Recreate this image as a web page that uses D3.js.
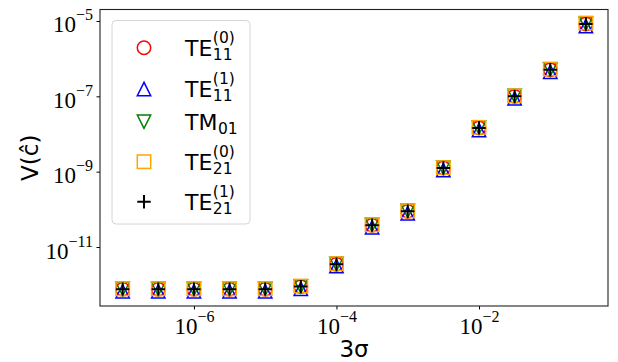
<!DOCTYPE html>
<html>
<head>
<meta charset="utf-8">
<script src="https://cdn.jsdelivr.net/npm/d3@7"></script>
<style>
  body { margin: 0; background: #fff; }
  svg { display: block; }
</style>
</head>
<body>
<div id="chart"></div>
<script>
// x values (3 sigma), half-decade steps
const sigma = [1e-7, 3.16e-7, 1e-6, 3.16e-6, 1e-5, 3.16e-5, 1e-4, 3.16e-4, 1e-3, 3.16e-3, 1e-2, 3.16e-2, 1e-1, 3.16e-1];

// V(c-hat) for each mode
const te11_0 = [7.6e-13, 7.6e-13, 7.6e-13, 7.6e-13, 7.6e-13, 8.9e-13, 3.5e-12, 3.8e-11, 8.9e-11, 1.25e-9, 1.45e-8, 1.0e-7, 5.1e-7, 8.3e-6];
const te11_1 = [6.7e-13, 6.7e-13, 6.7e-13, 6.7e-13, 6.7e-13, 7.8e-13, 3.1e-12, 3.35e-11, 7.8e-11, 1.1e-9, 1.28e-8, 8.8e-8, 4.5e-7, 7.3e-6];
const tm01 = [7.7e-13, 7.7e-13, 7.7e-13, 7.7e-13, 7.7e-13, 9.0e-13, 3.55e-12, 3.85e-11, 9.0e-11, 1.27e-9, 1.47e-8, 1.02e-7, 5.2e-7, 8.5e-6];
const te21_0 = [7.8e-13, 7.8e-13, 7.8e-13, 7.8e-13, 7.8e-13, 9.2e-13, 3.6e-12, 3.9e-11, 9.1e-11, 1.28e-9, 1.5e-8, 1.03e-7, 5.3e-7, 8.8e-6];
const te21_1 = [7.6e-13, 7.6e-13, 7.6e-13, 7.6e-13, 7.6e-13, 8.9e-13, 3.5e-12, 3.8e-11, 8.9e-11, 1.25e-9, 1.45e-8, 1.0e-7, 5.1e-7, 8.3e-6];

const seriesNames = ["TE", "TE", "TM", "TE", "TE"];
const seriesSubs = ["11", "11", "01", "21", "21"];
const seriesSups = ["(0)", "(1)", "", "(0)", "(1)"];
const seriesShapes = ["circle", "triangleUp", "triangleDown", "square", "plus"];
const seriesColors = ["red", "blue", "green", "orange", "black"];
const seriesValues = [te11_0, te11_1, tm01, te21_0, te21_1];

const xTickExps = [-6, -4, -2];
const yTickExps = [-11, -9, -7, -5];

const W = 618, H = 362;
const margin = { top: 9.5, left: 100, right: 10, bottom: 56 };
const width = W - margin.left - margin.right,
      height = H - margin.top - margin.bottom;

const svg = d3.select("#chart").append("svg")
  .attr("width", W).attr("height", H)
  .style("background-color", "#FFFFFF");

const g = svg.append("g").attr("transform", "translate(" + margin.left + "," + margin.top + ")");

const x = d3.scaleLog().domain([Math.pow(10, -7.318), Math.pow(10, -0.19)]).range([0, width]);
const y = d3.scaleLog().domain([Math.pow(10, -12.566), Math.pow(10, -4.695)]).range([height, 0]);

const serif = "'Liberation Serif', 'Times New Roman', serif";
const sans = "'DejaVu Sans', sans-serif";

// draw one marker of a given shape at (cx, cy)
const ms = 13.4;
function marker(sel, shape, color, cx, cy) {
  const h = ms / 2;
  if (shape === "circle") {
    sel.append("circle").attr("cx", cx).attr("cy", cy).attr("r", h)
      .attr("fill", "none").attr("stroke", color).attr("stroke-width", 1.5);
  } else if (shape === "square") {
    sel.append("rect").attr("x", cx - h).attr("y", cy - h).attr("width", ms).attr("height", ms)
      .attr("fill", "none").attr("stroke", color).attr("stroke-width", 1.5);
  } else if (shape === "triangleUp") {
    sel.append("path").attr("d", d3.line()([[cx, cy - h], [cx - h, cy + h], [cx + h, cy + h]]) + "Z")
      .attr("fill", "none").attr("stroke", color).attr("stroke-width", 1.5).attr("stroke-linejoin", "miter");
  } else if (shape === "triangleDown") {
    sel.append("path").attr("d", d3.line()([[cx, cy + h], [cx - h, cy - h], [cx + h, cy - h]]) + "Z")
      .attr("fill", "none").attr("stroke", color).attr("stroke-width", 1.5).attr("stroke-linejoin", "miter");
  } else if (shape === "plus") {
    sel.append("path").attr("d", "M" + (cx - h) + "," + cy + "H" + (cx + h) + "M" + cx + "," + (cy - h) + "V" + (cy + h))
      .attr("fill", "none").attr("stroke", color).attr("stroke-width", 2);
  }
}

// axes
const xAxis = g.append("g").attr("transform", "translate(0," + height + ")")
  .call(d3.axisBottom(x).tickValues(xTickExps.map(e => Math.pow(10, e))).tickSize(3.5).tickSizeOuter(0));
const yAxis = g.append("g")
  .call(d3.axisLeft(y).tickValues(yTickExps.map(e => Math.pow(10, e))).tickSize(3.5).tickSizeOuter(0));

[xAxis, yAxis].forEach(a => {
  a.select(".domain").remove();
  a.selectAll(".tick line").attr("stroke", "#000").attr("stroke-width", 1);
});

function powerLabel(text, e) {
  text.text(null).attr("font-family", serif).attr("fill", "#000");
  text.append("tspan").attr("font-size", 23).text("10");
  text.append("tspan").attr("font-size", 16).attr("dy", -12).text("\u2212" + Math.abs(e));
}

xAxis.selectAll(".tick text").each(function(d, i) {
  const t = d3.select(this).attr("y", 28).attr("dy", null);
  powerLabel(t, xTickExps[i]);
});
yAxis.selectAll(".tick text").each(function(d, i) {
  const t = d3.select(this).attr("x", -7).attr("dy", null).attr("y", 11);
  powerLabel(t, yTickExps[i]);
});

// frame
g.append("rect").attr("x", 0).attr("y", 0).attr("width", width).attr("height", height)
  .attr("fill", "none").attr("stroke", "#222").attr("stroke-width", 1.1);

// data points
seriesValues.forEach(function(vals, s) {
  const sg = g.append("g");
  sigma.forEach(function(sv, i) {
    marker(sg, seriesShapes[s], seriesColors[s], x(sv), y(vals[i]));
  });
});

// axis labels
svg.append("text")
  .attr("x", margin.left + width / 2).attr("y", 357)
  .attr("text-anchor", "middle")
  .attr("font-family", sans).attr("font-size", 23)
  .text("3\u03c3");

svg.append("text")
  .attr("transform", "translate(38," + (margin.top + height / 2) + ") rotate(-90)")
  .attr("text-anchor", "middle")
  .attr("font-family", sans).attr("font-size", 23)
  .text("V(\u0109)");

// legend
const legend = svg.append("g");
legend.append("rect")
  .attr("x", 112).attr("y", 20.5).attr("width", 138).attr("height", 203.5).attr("rx", 4)
  .attr("fill", "#fff").attr("fill-opacity", 0.8)
  .attr("stroke", "#d6d6d6").attr("stroke-width", 1);

const rowY = [47.7, 89, 121.7, 161.7, 201.7];
seriesNames.forEach(function(name, s) {
  const cy = rowY[s];
  marker(legend, seriesShapes[s], seriesColors[s], 144, cy);
  const base = cy + 7.8;
  const t = legend.append("text")
    .attr("x", 185).attr("y", base)
    .attr("font-family", sans).attr("font-size", 22)
    .text(name);
  const w = t.node().getComputedTextLength();
  legend.append("text")
    .attr("x", 185 + w + 0.5).attr("y", base + 4.5)
    .attr("font-family", sans).attr("font-size", 15.5)
    .text(seriesSubs[s]);
  if (seriesSups[s]) {
    legend.append("text")
      .attr("x", 185 + w + 0.5).attr("y", base - 12.5)
      .attr("font-family", sans).attr("font-size", 15.5)
      .text(seriesSups[s]);
  }
});
</script>
</body>
</html>
